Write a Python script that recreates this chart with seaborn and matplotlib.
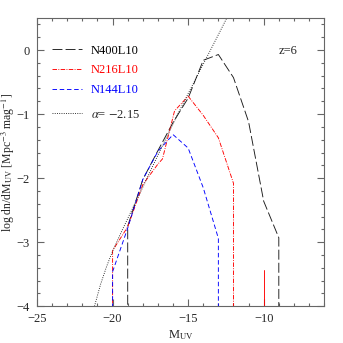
import numpy as np
import pandas as pd
import matplotlib
matplotlib.use("Agg")
import matplotlib.pyplot as plt
import seaborn as sns
from matplotlib.ticker import MultipleLocator

# floor value used where a bin is empty (drawn below the axis)
FLOOR = -6.0

# N400L10 (black, long dashes)
n400_mag = [-19, -19, -18, -17, -16, -15, -14, -13, -12, -11, -10, -9, -9]
n400_logphi = [FLOOR, -2.75, -2.02, -1.57, -1.13, -0.75, -0.16, -0.07, -0.43, -1.12, -2.36, -2.93, FLOOR]

# N216L10 (red, dash-dot)
n216_mag = [-20, -20, -19, -18, -17, -16.7, -15.9, -15, -14, -13, -12, -12]
n216_logphi = [FLOOR, -3.13, -2.76, -2.10, -1.78, -1.70, -0.95, -0.72, -1.02, -1.37, -2.08, FLOOR]
n216_spike_mag = [-10, -10]
n216_spike_logphi = [FLOOR, -3.44]

# N144L10 (blue, short dashes)
n144_mag = [-20, -20, -19, -18, -17, -16, -15, -14, -13, -13]
n144_logphi = [FLOOR, -3.46, -2.78, -2.02, -1.58, -1.32, -1.53, -2.15, -2.94, FLOOR]

# faint-end fit, alpha = -2.15 (dotted)
fit_mag = [-21.2, -20.8, -20.4, -20.0, -19.5, -19.0, -18.0, -17.0, -16.0, -15.0, -14.0, -13.0, -12.4]
fit_logphi = [-4.0, -3.66, -3.38, -3.14, -2.88, -2.63, -2.14, -1.64, -1.15, -0.68, -0.22, 0.24, 0.52]

sns.set_style("ticks")
plt.rcParams["font.family"] = ["Liberation Serif", "DejaVu Serif"]
plt.rcParams["mathtext.fontset"] = "stix"
plt.rcParams["font.size"] = 9

fig = plt.figure(figsize=(3.43, 3.43), dpi=100)
ax = fig.add_axes([0.108, 0.107, 0.837, 0.8405])

lw = 0.65
kw = dict(sort=False, estimator=None, ax=ax, lw=lw)
sns.lineplot(x=n400_mag, y=n400_logphi, color="0.1", linestyle=(0, (11, 3.5)), **kw)
sns.lineplot(x=n216_mag, y=n216_logphi, color="red", linestyle=(0, (5, 1.5, 1, 1.5)), **kw)
sns.lineplot(x=n216_spike_mag, y=n216_spike_logphi, color="red", linestyle="-", **kw)
sns.lineplot(x=n144_mag, y=n144_logphi, color="blue", linestyle=(0, (5, 3)), **kw)
sns.lineplot(x=fit_mag, y=fit_logphi, color="0.1", linestyle=(0, (1, 1.5)), **kw)

lines = ax.get_lines()
h400, h216, h144, hfit = lines[0], lines[1], lines[3], lines[4]

leg1 = ax.legend([h400, h216, h144], ["N400L10", "N216L10", "N144L10"],
                 loc="upper left", bbox_to_anchor=(0.052, 0.908), frameon=False,
                 borderpad=0, borderaxespad=0, handlelength=2.4, handletextpad=0.7,
                 labelspacing=0.62, labelcolor=["black", "red", "blue"], fontsize=9)
ax.add_artist(leg1)
ax.legend([hfit], [r"$\alpha$= $-$2.15"], loc="upper left",
          bbox_to_anchor=(0.052, 0.686), frameon=False, borderpad=0,
          borderaxespad=0, handlelength=2.4, handletextpad=0.7, fontsize=9)

ax.text(0.843, 0.887, "z=6", transform=ax.transAxes, va="center", ha="left", fontsize=9)

ax.set_xlim(-25, -6)
ax.set_ylim(-4, 0.5)
ax.xaxis.set_major_locator(MultipleLocator(5))
ax.xaxis.set_minor_locator(MultipleLocator(1))
ax.yaxis.set_major_locator(MultipleLocator(1))
ax.yaxis.set_minor_locator(MultipleLocator(0.2))
ax.tick_params(which="both", direction="in", top=True, right=True,
               color="0.4", width=0.8, labelsize=9)
ax.tick_params(which="major", length=5, pad=5)
ax.tick_params(which="minor", length=2.5)
for s in ax.spines.values():
    s.set_color("0.4")
    s.set_linewidth(0.8)

ax.set_xlabel(r"M$_{\rm UV}$", fontsize=9, labelpad=2)
ax.set_ylabel(r"log dn/dM$_{\rm UV}$ [Mpc$^{-3}$ mag$^{-1}$]", fontsize=8.5)
ax.yaxis.set_label_coords(-0.07, 0.5)

fig.savefig("out.png", dpi=100)
